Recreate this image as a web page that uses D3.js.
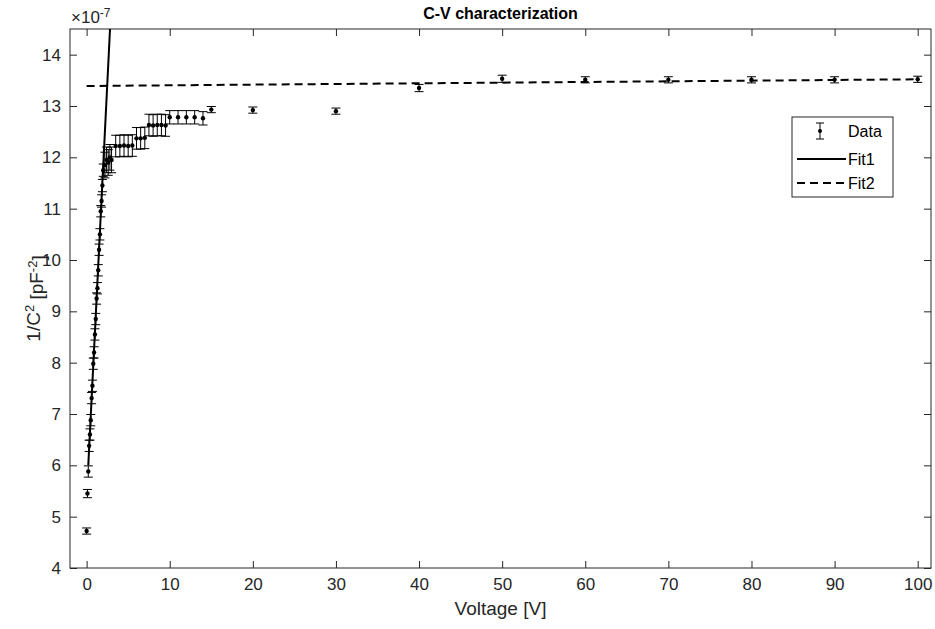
<!DOCTYPE html>
<html>
<head>
<meta charset="utf-8">
<script src="https://cdn.jsdelivr.net/npm/d3@7"></script>
<style>
  body { margin: 0; background: #fff; }
  text { font-family: "Liberation Sans", Arial, sans-serif; }
</style>
</head>
<body>
<div id="chart"></div>
<script>
// measured points (x in V, y in 1e-7 pF^-2)
const voltage = [0, 0.1, 0.2, 0.3, 0.4, 0.5, 0.6, 0.7, 0.8, 0.9, 1.0, 1.1, 1.2, 1.3, 1.4, 1.5, 1.6, 1.7, 1.8, 1.9, 2.0,
  2.2, 2.4, 2.6, 2.8, 3.0,
  3.5, 4.0, 4.5, 5.0, 5.5,
  6.0, 6.5, 7.0,
  7.5, 8.0, 8.5, 9.0, 9.5,
  10, 11, 12, 13, 14,
  15, 20, 30, 40, 50, 60, 70, 80, 90, 100];
const invC2 = [4.72, 5.45, 5.88, 6.38, 6.60, 6.88, 7.31, 7.55, 7.98, 8.20, 8.55, 8.85, 9.25, 9.45, 9.80, 10.20, 10.50, 10.95, 11.15, 11.45, 11.75,
  11.85, 11.95, 11.90, 12.00, 11.95,
  12.22, 12.22, 12.23, 12.22, 12.23,
  12.37, 12.37, 12.38,
  12.63, 12.62, 12.63, 12.63, 12.62,
  12.78, 12.78, 12.78, 12.78, 12.76,
  12.93, 12.92, 12.90, 13.35, 13.53, 13.51, 13.51, 13.51, 13.51, 13.52];
const errs = [0.06, 0.08, 0.11, 0.11, 0.11, 0.11, 0.11, 0.11, 0.11, 0.11, 0.11, 0.11, 0.11, 0.11, 0.11, 0.11, 0.11, 0.11, 0.12, 0.12, 0.12,
  0.25, 0.25, 0.25, 0.25, 0.25,
  0.21, 0.21, 0.21, 0.21, 0.21,
  0.21, 0.21, 0.21,
  0.21, 0.21, 0.21, 0.21, 0.21,
  0.13, 0.13, 0.13, 0.13, 0.13,
  0.06, 0.06, 0.06, 0.07, 0.07, 0.06, 0.06, 0.06, 0.06, 0.06];

// fitted lines (end points)
const fit1V = [0.2, 3.0];
const fit1Y = [6.0, 15.1];
const fit2V = [0, 100];
const fit2Y = [13.39, 13.52];

const xTicks = [0, 10, 20, 30, 40, 50, 60, 70, 80, 90, 100];
const yTicks = [4, 5, 6, 7, 8, 9, 10, 11, 12, 13, 14];
const legendLabels = ['Data', 'Fit1', 'Fit2'];

const svgWidth = 935, svgHeight = 629;
const margin = { top: 29, right: 4, bottom: 61, left: 70 };
const width = svgWidth - margin.left - margin.right;
const height = svgHeight - margin.top - margin.bottom;
const ink = '#262626';

const svg = d3.select('#chart').append('svg')
  .attr('width', svgWidth)
  .attr('height', svgHeight);

const g = svg.append('g')
  .attr('transform', `translate(${margin.left},${margin.top})`);

const x = d3.scaleLinear().domain([-2, 101.6]).range([0, width]);
const y = d3.scaleLinear().domain([4, 14.5]).range([height, 0]);

g.append('defs').append('clipPath').attr('id', 'plotclip')
  .append('rect').attr('width', width).attr('height', height);

// axes, ticks pointing inward on all sides
const styleAxis = sel => {
  sel.select('.domain').remove();
  sel.selectAll('line').attr('stroke', ink);
  sel.selectAll('text').attr('fill', ink).style('font-size', '17px')
    .style('font-family', '"Liberation Sans", Arial, sans-serif');
};

g.append('g')
  .attr('transform', `translate(0,${height})`)
  .call(d3.axisBottom(x).tickValues(xTicks).tickSize(-7).tickSizeOuter(0).tickPadding(10))
  .call(styleAxis);

g.append('g')
  .call(d3.axisTop(x).tickValues(xTicks).tickSize(-7).tickSizeOuter(0).tickFormat(''))
  .call(styleAxis);

g.append('g')
  .call(d3.axisLeft(y).tickValues(yTicks).tickSize(-7).tickSizeOuter(0).tickPadding(9))
  .call(styleAxis);

g.append('g')
  .attr('transform', `translate(${width},0)`)
  .call(d3.axisRight(y).tickValues(yTicks).tickSize(-7).tickSizeOuter(0).tickFormat(''))
  .call(styleAxis);

g.append('rect')
  .attr('width', width)
  .attr('height', height)
  .attr('fill', 'none')
  .attr('stroke', ink)
  .attr('stroke-width', 1);

const plot = g.append('g').attr('clip-path', 'url(#plotclip)');

// error bars
const pts = voltage.map((v, i) => ({ v, c: invC2[i], e: errs[i] }));
const capW = 4.5;

const bars = plot.append('g').selectAll('g')
  .data(pts)
  .join('g')
  .attr('stroke', '#000')
  .attr('stroke-width', 1);

bars.append('line')
  .attr('x1', d => x(d.v)).attr('x2', d => x(d.v))
  .attr('y1', d => y(d.c - d.e)).attr('y2', d => y(d.c + d.e));
bars.append('line')
  .attr('x1', d => x(d.v) - capW).attr('x2', d => x(d.v) + capW)
  .attr('y1', d => y(d.c + d.e)).attr('y2', d => y(d.c + d.e));
bars.append('line')
  .attr('x1', d => x(d.v) - capW).attr('x2', d => x(d.v) + capW)
  .attr('y1', d => y(d.c - d.e)).attr('y2', d => y(d.c - d.e));

plot.append('g').selectAll('circle')
  .data(pts)
  .join('circle')
  .attr('cx', d => x(d.v))
  .attr('cy', d => y(d.c))
  .attr('r', 2.2)
  .attr('fill', '#000');

// fit lines
const line = d3.line().x(d => x(d[0])).y(d => y(d[1]));

plot.append('path')
  .datum(fit1V.map((v, i) => [v, fit1Y[i]]))
  .attr('fill', 'none')
  .attr('stroke', '#000')
  .attr('stroke-width', 2)
  .attr('d', line);

plot.append('path')
  .datum(fit2V.map((v, i) => [v, fit2Y[i]]))
  .attr('fill', 'none')
  .attr('stroke', '#000')
  .attr('stroke-width', 2)
  .attr('stroke-dasharray', '8,5')
  .attr('d', line);

// legend
const lg = svg.append('g').attr('transform', 'translate(792,117)');
lg.append('rect')
  .attr('width', 101)
  .attr('height', 80)
  .attr('fill', '#fff')
  .attr('stroke', ink)
  .attr('stroke-width', 1);

const rowY = [14, 42, 66];
lg.selectAll('text')
  .data(legendLabels)
  .join('text')
  .attr('x', 56)
  .attr('y', (d, i) => rowY[i])
  .attr('dy', '0.35em')
  .attr('fill', '#000')
  .style('font-size', '16px')
  .text(d => d);

const icon = lg.append('g').attr('stroke', '#000').attr('stroke-width', 1);
icon.append('line').attr('x1', 28).attr('x2', 28).attr('y1', rowY[0] - 8).attr('y2', rowY[0] + 8);
icon.append('line').attr('x1', 24).attr('x2', 32).attr('y1', rowY[0] - 8).attr('y2', rowY[0] - 8);
icon.append('line').attr('x1', 24).attr('x2', 32).attr('y1', rowY[0] + 8).attr('y2', rowY[0] + 8);
lg.append('circle').attr('cx', 28).attr('cy', rowY[0]).attr('r', 2).attr('fill', '#000');

lg.append('line')
  .attr('x1', 5).attr('x2', 54).attr('y1', rowY[1]).attr('y2', rowY[1])
  .attr('stroke', '#000').attr('stroke-width', 2);
lg.append('line')
  .attr('x1', 5).attr('x2', 54).attr('y1', rowY[2]).attr('y2', rowY[2])
  .attr('stroke', '#000').attr('stroke-width', 2)
  .attr('stroke-dasharray', '8,5');

// title and labels
svg.append('text')
  .attr('x', margin.left + width / 2)
  .attr('y', 19)
  .attr('text-anchor', 'middle')
  .attr('fill', '#000')
  .style('font-size', '16px')
  .style('font-weight', 'bold')
  .text('C-V characterization');

svg.append('text')
  .attr('x', margin.left + width / 2)
  .attr('y', 615)
  .attr('text-anchor', 'middle')
  .attr('fill', ink)
  .style('font-size', '19px')
  .text('Voltage [V]');

const yl = svg.append('text')
  .attr('transform', `translate(40,${margin.top + height / 2}) rotate(-90)`)
  .attr('text-anchor', 'middle')
  .attr('fill', ink)
  .style('font-size', '19px');
yl.append('tspan').text('1/C');
yl.append('tspan').attr('dy', '-0.45em').style('font-size', '13px').text('2');
yl.append('tspan').attr('dy', '0.45em').text(' [pF');
yl.append('tspan').attr('dy', '-0.45em').style('font-size', '13px').text('-2');
yl.append('tspan').attr('dy', '0.45em').text(']');

const ex = svg.append('text')
  .attr('x', 71)
  .attr('y', 23)
  .attr('fill', ink)
  .style('font-size', '17px');
ex.append('tspan').text('\u00d710');
ex.append('tspan').attr('dy', '-0.5em').style('font-size', '12px').text('-7');
</script>
</body>
</html>
